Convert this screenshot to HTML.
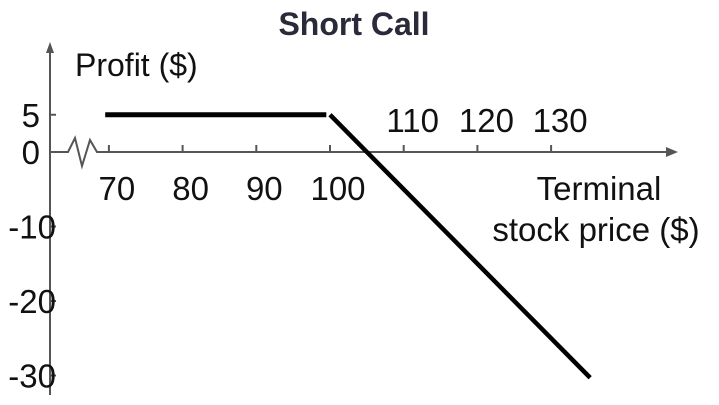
<!DOCTYPE html>
<html><head><meta charset="utf-8"><style>
html,body{margin:0;padding:0;background:#fff;}
svg{display:block;font-family:"Liberation Sans",Arial,sans-serif;}
</style></head><body>
<svg id="c" width="719" height="405" viewBox="0 0 719 405">
<text x="354" y="35" text-anchor="middle" font-size="32" font-weight="bold" fill="#2a2a3a">Short Call</text>
<text x="75" y="76" font-size="32" fill="#111">Profit ($)</text>
<text x="599" y="200" text-anchor="middle" font-size="33" fill="#111">Terminal</text>
<text x="596" y="241" text-anchor="middle" font-size="33" fill="#111">stock price ($)</text>
<g id="axes"></g>
<g id="marks"></g>
</svg>
<script>
const xTicksBelow=[70,80,90,100];
const xTicksAbove=[110,120,130];
const yTicks=[5,0,-10,-20,-30];
const seg1Price=[69.5,99.5];
const seg1Profit=[5,5];
const seg2Price=[100,135.3];
const seg2Profit=[5,-30.3];
const NS="http://www.w3.org/2000/svg";
const X=p=>330+(p-100)*7.37;
const Y=v=>152-v*7.45;
function mk(t,a,parent){const e=document.createElementNS(NS,t);for(const k in a)e.setAttribute(k,a[k]);parent.appendChild(e);return e;}
const ax=document.getElementById('axes'),mg=document.getElementById('marks');
let e;
e=mk('line',{x1:50,y1:395,x2:50,y2:50,stroke:'#555','stroke-width':2},ax);


e=mk('polygon',{points:'50,42 46,53 54,53',fill:'#555'},ax);


e=mk('polyline',{points:'50,152 68,152 75,138 82,166 90,140 97,152 672,152',fill:'none',stroke:'#555','stroke-width':2},ax);


e=mk('polygon',{points:'678,152 666,147 666,157',fill:'#555'},ax);


xTicksBelow.concat(xTicksAbove).forEach(p=>{
 e=mk('line',{x1:X(p),y1:145,x2:X(p),y2:152,stroke:'#555','stroke-width':2},ax);
 
 
});
xTicksBelow.forEach(p=>{
 e=mk('text',{x:X(p)+8,y:200,'text-anchor':'middle','font-size':33,fill:'#111'},ax);e.textContent=p;
 
 
});
xTicksAbove.forEach(p=>{
 e=mk('text',{x:X(p)+9,y:132,'text-anchor':'middle','font-size':33,fill:'#111'},ax);e.textContent=p;
 
 
});
yTicks.forEach(v=>{
 e=mk('line',{x1:50,y1:Y(v),x2:56,y2:Y(v),stroke:'#555','stroke-width':2},ax);
 
 
 e=mk('text',{x:v<0?56:40,y:Y(v)+12,'text-anchor':'end','font-size':33,fill:'#111'},ax);e.textContent=v;
 
 
});
e=mk('line',{x1:X(seg1Price[0]),y1:Y(seg1Profit[0]),x2:X(seg1Price[1]),y2:Y(seg1Profit[1]),stroke:'#000','stroke-width':5},mg);


e=mk('line',{x1:X(seg2Price[0]),y1:Y(seg2Profit[0]),x2:X(seg2Price[1]),y2:Y(seg2Profit[1]),stroke:'#000','stroke-width':4.5},mg);


</script>
</body></html>
